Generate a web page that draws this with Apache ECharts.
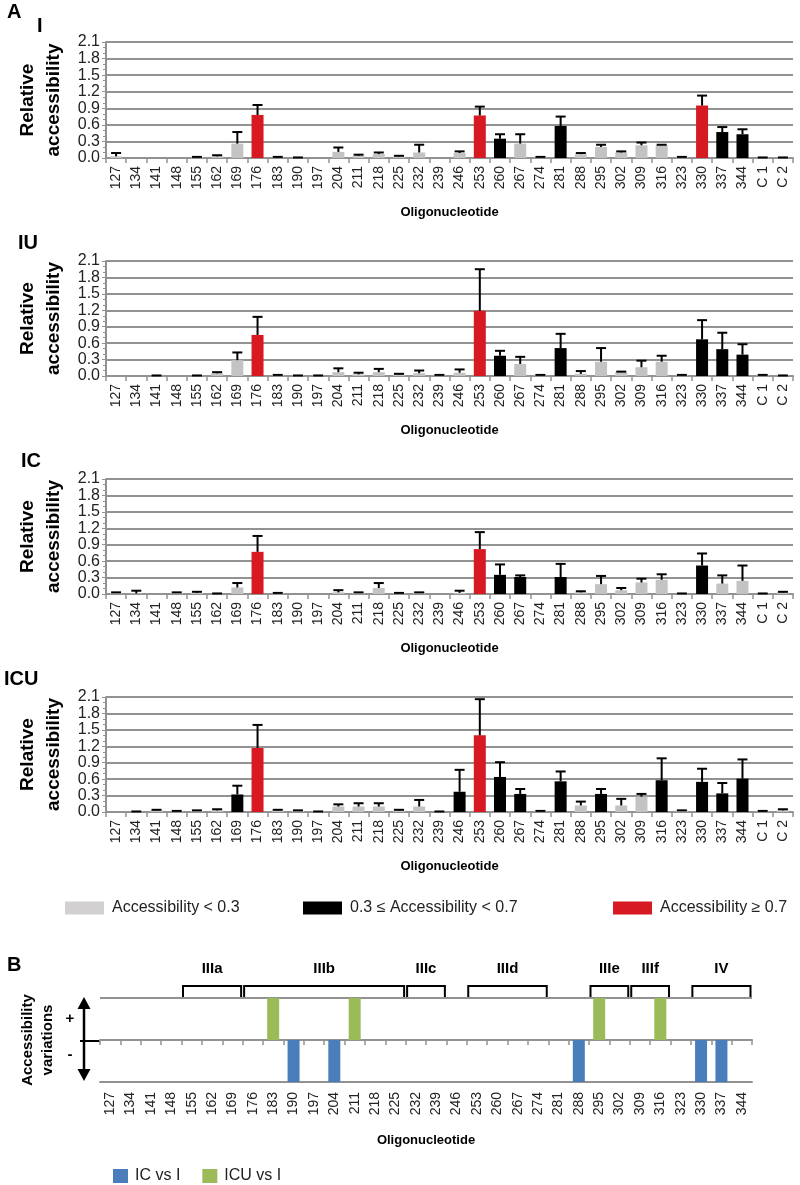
<!DOCTYPE html>
<html><head><meta charset="utf-8">
<script src="https://cdn.jsdelivr.net/npm/echarts@6/dist/echarts.min.js"></script>
<style>html,body{margin:0;padding:0;background:#fff}#c{width:800px;height:1185px}</style>
</head><body><div id="c"></div>
<script>
// ---------- DATA ----------
const oligos = ['127','134','141','148','155','162','169','176','183','190','197','204','211','218','225','232','239','246','253','260','267','274','281','288','295','302','309','316','323','330','337','344','C 1','C 2'];
const oligosB = ['127','134','141','148','155','162','169','176','183','190','197','204','211','218','225','232','239','246','253','260','267','274','281','288','295','302','309','316','323','330','337','344'];

const I_val  = [0.03,0,0,0,0.02,0.03,0.26,0.78,0.01,0.01,0,0.11,0.04,0.07,0.03,0.10,0,0.09,0.77,0.35,0.26,0.02,0.58,0.07,0.20,0.10,0.23,0.23,0.02,0.95,0.47,0.43,0.01,0.01];
const I_err  = [0.06,0,0,0,0,0.02,0.21,0.18,0.01,0,0,0.08,0.02,0.03,0.01,0.14,0,0.03,0.16,0.08,0.17,0,0.17,0.02,0.04,0.02,0.05,0.01,0,0.18,0.09,0.09,0,0];

const IU_val = [0,0,0.01,0,0.01,0.05,0.29,0.75,0.02,0.01,0.01,0.07,0.03,0.07,0.03,0.05,0.02,0.06,1.19,0.37,0.22,0.02,0.51,0.04,0.26,0.07,0.16,0.26,0.02,0.67,0.49,0.39,0.02,0.01];
const IU_err = [0,0,0,0,0,0.02,0.14,0.33,0,0,0,0.07,0.03,0.06,0.01,0.05,0,0.06,0.76,0.09,0.13,0,0.26,0.05,0.25,0.01,0.12,0.11,0,0.35,0.30,0.19,0,0];

const IC_val = [0.02,0.01,0,0.02,0.02,0.01,0.12,0.77,0.02,0,0,0.03,0.02,0.11,0.02,0.03,0,0.02,0.82,0.35,0.31,0,0.31,0.03,0.18,0.07,0.21,0.26,0.01,0.52,0.19,0.24,0.01,0.03];
const IC_err = [0.01,0.05,0,0.01,0.02,0,0.08,0.29,0,0,0,0.04,0.01,0.09,0,0,0,0.04,0.31,0.19,0.03,0,0.24,0.02,0.15,0.04,0.07,0.10,0,0.22,0.15,0.28,0,0.01];

const ICU_val = [0,0.01,0.03,0.02,0.02,0.03,0.32,1.17,0.03,0.02,0.01,0.10,0.10,0.10,0.03,0.10,0.01,0.37,1.40,0.64,0.33,0.02,0.56,0.12,0.33,0.12,0.28,0.58,0.03,0.55,0.34,0.61,0.02,0.03];
const ICU_err = [0,0,0.01,0,0.01,0.02,0.16,0.42,0.01,0.01,0,0.04,0.06,0.06,0.01,0.12,0,0.40,0.66,0.27,0.09,0,0.18,0.07,0.09,0.12,0.05,0.40,0,0.24,0.19,0.35,0,0.02];

const icVsI_down = ['190','204','288','330','337'];
const icuVsI_up  = ['183','211','295','316'];

const regionNames = ['IIIa','IIIb','IIIc','IIId','IIIe','IIIf','IV'];
const regionFrom  = ['155','176','232','253','295','309','330'];
const regionTo    = ['169','225','239','274','302','316','344'];

const legendA = ['Accessibility < 0.3','0.3 ≤ Accessibility < 0.7','Accessibility ≥ 0.7'];

// ---------- STYLE ----------
const FONT = "'Liberation Sans', Arial, sans-serif";
const C_LOW = '#c3c3c3', C_MID = '#000000', C_HIGH = '#d71a21';
const C_LEG_LOW = '#d2d0d0';
const C_BLUE = '#4a7ebb', C_GREEN = '#9bbb59';
const GRID_C = '#929292';
function colorFor(v){ return v >= 0.7 ? C_HIGH : (v >= 0.3 ? C_MID : C_LOW); }

const panels = [
  {name:'I',   val:I_val,   err:I_err,   top:42,  height:116, tl:37, tt:16},
  {name:'IU',  val:IU_val,  err:IU_err,  top:261, height:115, tl:18, tt:233},
  {name:'IC',  val:IC_val,  err:IC_err,  top:479, height:115, tl:21, tt:451},
  {name:'ICU', val:ICU_val, err:ICU_err, top:697, height:115, tl:4,  tt:669}
];

function errRender(params, api){
  const x = api.value(0), v = api.value(1), hi = api.value(2);
  if (!(hi > 0)) return null;
  const p0 = api.coord([x, v]);
  const p1 = api.coord([x, hi]);
  const w = 10;
  return {type:'group', children:[
    {type:'line', shape:{x1:p0[0], y1:p0[1], x2:p1[0], y2:p1[1]}, style:{stroke:'#000', lineWidth:2}},
    {type:'line', shape:{x1:p1[0]-w/2, y1:p1[1], x2:p1[0]+w/2, y2:p1[1]}, style:{stroke:'#000', lineWidth:2}}
  ]};
}

const grid = [], xAxis = [], yAxis = [], series = [], title = [];
title.push({text:'A', left:7, top:2, padding:0, textStyle:{fontSize:20, fontWeight:'bold', color:'#000', fontFamily:FONT}});
title.push({text:'B', left:7, top:955, padding:0, textStyle:{fontSize:20, fontWeight:'bold', color:'#000', fontFamily:FONT}});

panels.forEach((p, k) => {
  title.push({text:p.name, left:p.tl, top:p.tt, padding:0, textStyle:{fontSize:20, fontWeight:'bold', color:'#000', fontFamily:FONT}});
  grid.push({left:106, width:687, top:p.top, height:p.height});
  xAxis.push({
    type:'category', gridIndex:k, data:oligos, boundaryGap:true,
    axisLine:{lineStyle:{color:GRID_C, width:2}},
    axisTick:{show:true, alignWithLabel:false, length:5, interval:0, lineStyle:{color:GRID_C, width:1.5}},
    axisLabel:{rotate:90, interval:0, fontSize:14, margin:8, color:'#222', fontFamily:FONT},
    name:'Oligonucleotide', nameLocation:'middle', nameGap:48,
    nameTextStyle:{fontSize:13, fontWeight:'bold', color:'#000', fontFamily:FONT}
  });
  yAxis.push({
    type:'value', gridIndex:k, min:0, max:2.1, interval:0.3,
    axisLine:{show:true, lineStyle:{color:GRID_C, width:2}},
    axisTick:{show:true, length:4, lineStyle:{color:GRID_C}},
    minorTick:{show:true, splitNumber:3, length:3, lineStyle:{color:GRID_C}},
    splitLine:{show:true, lineStyle:{color:GRID_C, width:2}},
    axisLabel:{fontSize:16, color:'#222', margin:6, fontFamily:FONT, formatter:v => v.toFixed(1)},
    name:'Relative\naccessibility', nameLocation:'middle', nameGap:37, nameRotate:90,
    nameTextStyle:{fontSize:19, fontWeight:'bold', color:'#000', lineHeight:26, fontFamily:FONT}
  });
  series.push({
    type:'bar', xAxisIndex:k, yAxisIndex:k, barWidth:12, silent:true,
    data:p.val.map(v => ({value:v, itemStyle:{color:colorFor(v)}}))
  });
  series.push({
    type:'custom', xAxisIndex:k, yAxisIndex:k, z:5, silent:true,
    renderItem:errRender, encode:{x:0, y:[1,2]},
    data:p.val.map((v,i) => [i, v, v + p.err[i]])
  });
});

// dummy series for panel A legend
const legendColors = [C_LEG_LOW, C_MID, C_HIGH];
legendA.forEach((n, i) => {
  series.push({type:'scatter', name:n, xAxisIndex:0, yAxisIndex:0, data:[], itemStyle:{color:legendColors[i], opacity:1}});
});

// ---------- PANEL B ----------
grid.push({left:100, width:652, top:998, height:84});
xAxis.push({
  type:'category', gridIndex:4, data:oligosB, boundaryGap:true, position:'bottom',
  axisLine:{onZero:false, lineStyle:{color:GRID_C, width:2}},
  axisTick:{show:false},
  axisLabel:{rotate:90, interval:0, fontSize:14, margin:10, color:'#222', fontFamily:FONT},
  name:'Oligonucleotide', nameLocation:'middle', nameGap:52,
  nameTextStyle:{fontSize:13, fontWeight:'bold', color:'#000', fontFamily:FONT}
});
xAxis.push({
  type:'category', gridIndex:4, data:oligosB, boundaryGap:true, position:'top',
  axisLine:{onZero:true, lineStyle:{color:GRID_C, width:2}},
  axisTick:{show:true, inside:true, length:5, interval:0, lineStyle:{color:GRID_C, width:1.5}},
  axisLabel:{show:false}
});
yAxis.push({
  type:'value', gridIndex:4, min:-1, max:1, interval:1,
  axisLine:{show:false}, axisTick:{show:false}, axisLabel:{show:false},
  splitLine:{show:true, lineStyle:{color:GRID_C, width:2}},
  name:'Accessibility\nvariations', nameLocation:'middle', nameGap:42, nameRotate:90,
  nameTextStyle:{fontSize:15, fontWeight:'bold', color:'#000', lineHeight:20, fontFamily:FONT}
});
series.push({
  type:'bar', name:'IC vs I', xAxisIndex:4, yAxisIndex:4, barWidth:12, barGap:'-100%', silent:true,
  itemStyle:{color:C_BLUE},
  data:oligosB.map(o => icVsI_down.includes(o) ? -1 : '-')
});
series.push({
  type:'bar', name:'ICU vs I', xAxisIndex:4, yAxisIndex:4, barWidth:12, barGap:'-100%', silent:true,
  itemStyle:{color:C_GREEN},
  data:oligosB.map(o => icuVsI_up.includes(o) ? 1 : '-')
});
series.push({
  type:'custom', xAxisIndex:4, yAxisIndex:4, silent:true, clip:false, z:6,
  encode:{x:[0,1], y:2},
  data:regionFrom.map((f,i) => [oligosB.indexOf(f), oligosB.indexOf(regionTo[i]), 1]),
  renderItem:function(params, api){
    const s = api.coord([api.value(0), 1]);
    const e = api.coord([api.value(1), 1]);
    const bw = api.size([1, 0])[0];
    const x1 = s[0] - bw/2 + 1.5, x2 = e[0] + bw/2 - 1.5;
    const yb = s[1] - 1, yt = yb - 11;
    return {type:'group', children:[
      {type:'polyline', shape:{points:[[x1,yb],[x1,yt],[x2,yt],[x2,yb]]}, style:{stroke:'#000', lineWidth:2, fill:null}},
      {type:'text', style:{text:regionNames[params.dataIndex], x:(x1+x2)/2, y:yt-10, align:'center', verticalAlign:'bottom',
        font:'bold 15px ' + FONT, fill:'#000'}}
    ]};
  }
});

const legend = [
  {data:[legendA[0]], left:60, top:895, icon:'rect', itemWidth:39, itemHeight:13, selectedMode:false,
   textStyle:{fontSize:16, color:'#222', fontFamily:FONT, padding:[0,0,0,3]}},
  {data:[legendA[1]], left:298, top:895, icon:'rect', itemWidth:39, itemHeight:13, selectedMode:false,
   textStyle:{fontSize:16, color:'#222', fontFamily:FONT, padding:[0,0,0,3]}},
  {data:[legendA[2]], left:608, top:895, icon:'rect', itemWidth:39, itemHeight:13, selectedMode:false,
   textStyle:{fontSize:16, color:'#222', fontFamily:FONT, padding:[0,0,0,3]}},
  {data:['IC vs I','ICU vs I'], left:108, top:1163, icon:'rect', itemWidth:15, itemHeight:14, itemGap:22, selectedMode:false,
   textStyle:{fontSize:16, color:'#222', fontFamily:FONT, padding:[0,0,0,2]}}
];

const graphic = [
  {type:'line', shape:{x1:84, y1:1006, x2:84, y2:1074}, style:{stroke:'#000', lineWidth:2.5}},
  {type:'polygon', shape:{points:[[84,997],[77.5,1009],[90.5,1009]]}, style:{fill:'#000'}},
  {type:'polygon', shape:{points:[[84,1081],[77.5,1069],[90.5,1069]]}, style:{fill:'#000'}},
  {type:'line', shape:{x1:80, y1:1041, x2:100, y2:1041}, style:{stroke:'#000', lineWidth:2}},
  {type:'text', style:{text:'+', x:70, y:1019, align:'center', verticalAlign:'middle', font:'bold 15px ' + FONT, fill:'#000'}},
  {type:'text', style:{text:'-', x:70, y:1055, align:'center', verticalAlign:'middle', font:'bold 15px ' + FONT, fill:'#000'}}
];

const chart = echarts.init(document.getElementById('c'), null, {renderer:'canvas'});
chart.setOption({
  animation:false,
  backgroundColor:'#fff',
  textStyle:{fontFamily:FONT},
  title, legend, grid, xAxis, yAxis, series, graphic
});
</script></body></html>
